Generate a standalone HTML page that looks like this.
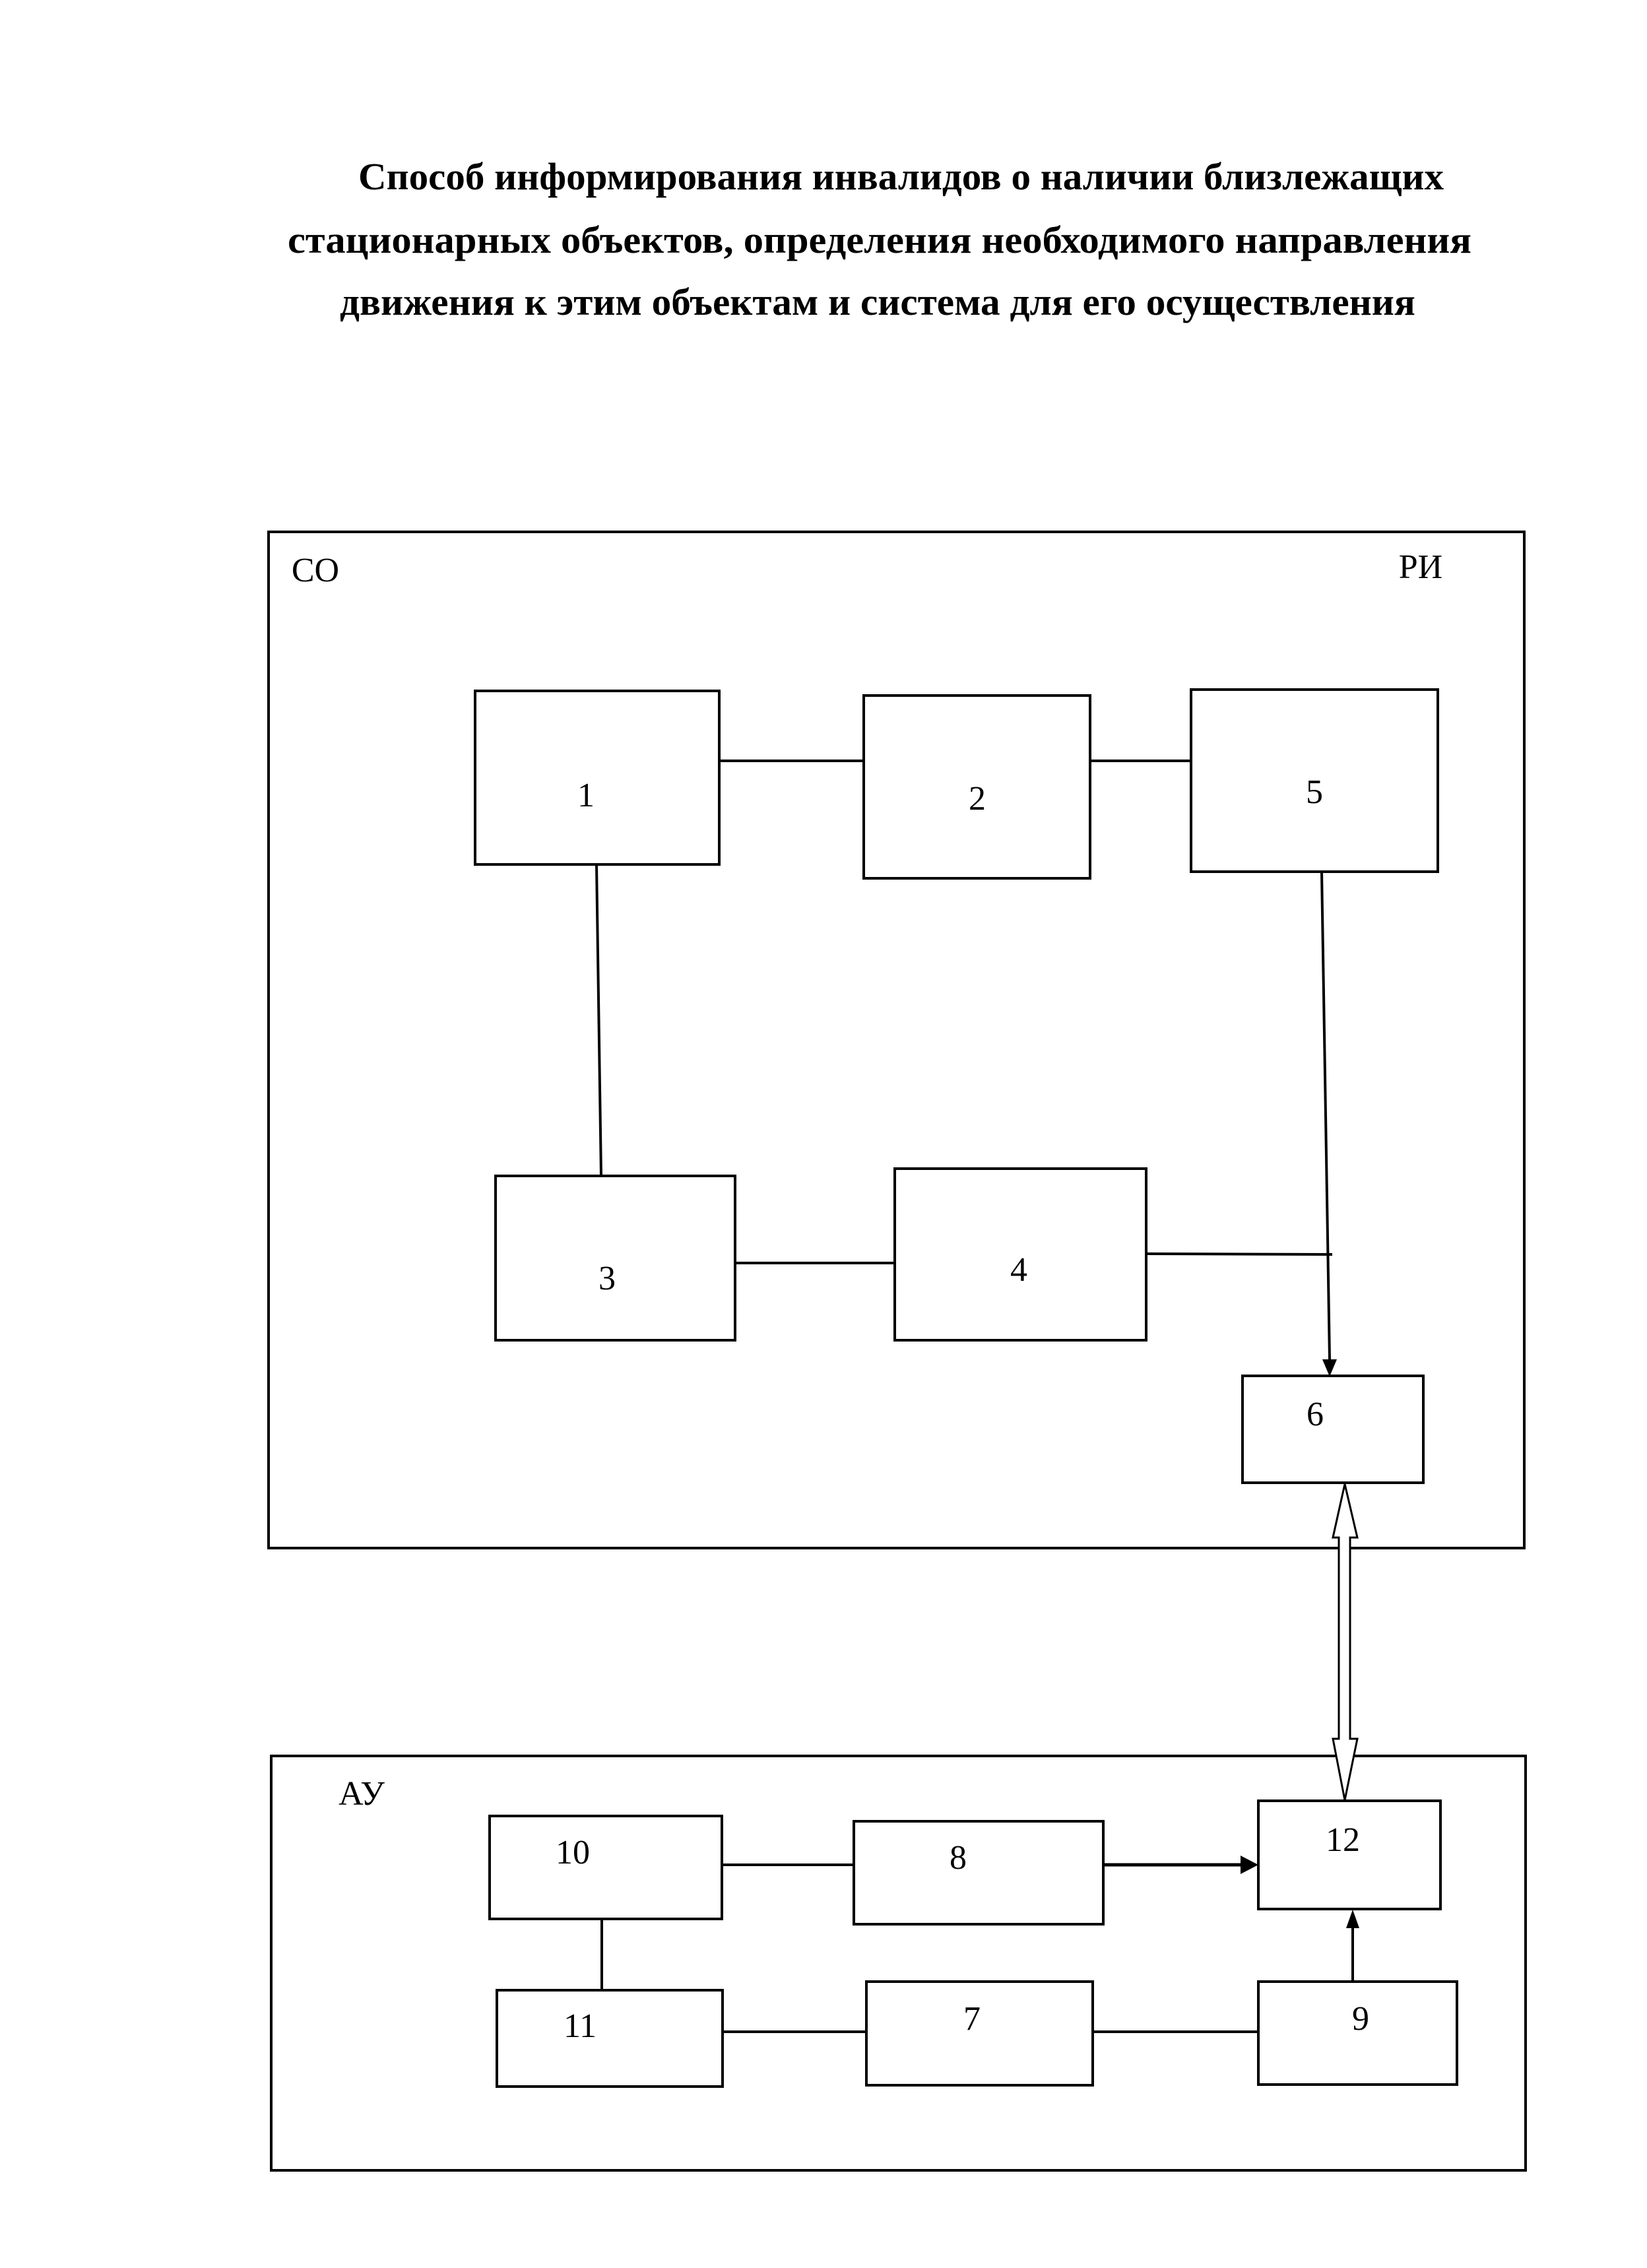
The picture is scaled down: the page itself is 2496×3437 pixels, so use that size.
<!DOCTYPE html>
<html><head><meta charset="utf-8"><style>html,body{margin:0;padding:0;background:#fff}svg{display:block}</style></head>
<body>
<svg width="2496" height="3437" viewBox="0 0 2496 3437" xmlns="http://www.w3.org/2000/svg">
<rect width="2496" height="3437" fill="#fff"/>
<g font-family="Liberation Serif, serif" font-weight="bold" font-size="58" fill="#000">
<text x="543" y="287" textLength="1645" lengthAdjust="spacingAndGlyphs">Способ информирования инвалидов о наличии близлежащих</text>
<text x="436" y="383" textLength="1794" lengthAdjust="spacingAndGlyphs">стационарных объектов,  определения необходимого  направления</text>
<text x="515" y="477" textLength="1630" lengthAdjust="spacingAndGlyphs">движения к этим объектам и система для его осуществления</text>
</g>
<g fill="none" stroke="#000" stroke-width="4">
<rect x="407" y="806" width="1903" height="1540"/>
<rect x="720" y="1047" width="370" height="263"/>
<rect x="1309" y="1054" width="343" height="277"/>
<rect x="1805" y="1045" width="374" height="276"/>
<rect x="751" y="1782" width="363" height="249"/>
<rect x="1356" y="1771" width="381" height="260"/>
<rect x="1883" y="2085" width="274" height="162"/>
<line x1="1090" y1="1153" x2="1309" y2="1153"/>
<line x1="1652" y1="1153" x2="1805" y2="1153"/>
<line x1="904" y1="1310" x2="911" y2="1782"/>
<line x1="1114" y1="1914" x2="1356" y2="1914"/>
<line x1="1737" y1="1900" x2="2019" y2="1901"/>
<line x1="2003" y1="1321" x2="2015" y2="2060"/>
<rect x="411" y="2661" width="1901" height="628"/>
<rect x="742" y="2752" width="352" height="156"/>
<rect x="1294" y="2760" width="378" height="156"/>
<rect x="1907" y="2729" width="276" height="164"/>
<rect x="753" y="3016" width="342" height="146"/>
<rect x="1313" y="3003" width="343" height="157"/>
<rect x="1907" y="3003" width="301" height="156"/>
<line x1="1094" y1="2826" x2="1294" y2="2826"/>
<line x1="1672" y1="2826" x2="1880" y2="2826" stroke-width="5"/>
<line x1="912" y1="2908" x2="912" y2="3016"/>
<line x1="1095" y1="3079" x2="1313" y2="3079"/>
<line x1="1656" y1="3079" x2="1907" y2="3079"/>
<line x1="2050" y1="3003" x2="2050" y2="2920"/>
</g>
<polygon points="2004,2060 2026,2060 2015,2086" fill="#000"/>
<polygon points="1880,2812 1907,2826 1880,2840" fill="#000"/>
<polygon points="2040,2922 2060,2922 2050,2894" fill="#000"/>
<polygon points="2038,2249 2057,2330 2046,2330 2046,2635 2057,2635 2038,2728 2020,2635 2029,2635 2029,2330 2020,2330" fill="#fff" stroke="#000" stroke-width="3"/>
<g font-family="Liberation Serif, serif" font-size="52" fill="#000" text-anchor="middle">
<text x="478" y="881">СО</text>
<text x="2153" y="876">РИ</text>
<text x="888" y="1222">1</text>
<text x="1481" y="1227">2</text>
<text x="1992" y="1217">5</text>
<text x="920" y="1954">3</text>
<text x="1544" y="1941">4</text>
<text x="1993" y="2160">6</text>
<text x="548" y="2735">АУ</text>
<text x="868" y="2824">10</text>
<text x="1452" y="2832">8</text>
<text x="2035" y="2805">12</text>
<text x="879" y="3087">11</text>
<text x="1473" y="3076">7</text>
<text x="2062" y="3076">9</text>
</g>
</svg>
</body></html>
